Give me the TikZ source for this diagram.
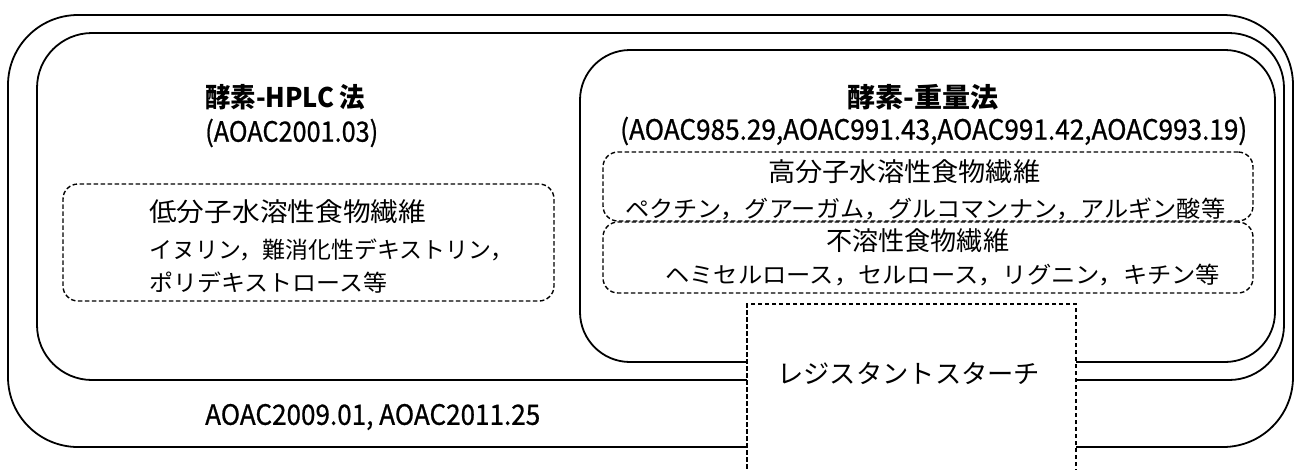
\documentclass[tikz,border=0pt]{standalone}
\usepackage{fontspec}
\usepackage{graphicx}
\setmainfont{Noto Sans CJK JP}
\newfontfamily\semib[FakeBold=0.8]{Noto Sans CJK JP}
\newcommand{\fitw}[3]{{\fontsize{#2}{#2}\selectfont\resizebox{#1pt}{\height}{#3}}}
\newcommand{\fitwm}[3]{{\semib\fontsize{#2}{#2}\selectfont\resizebox{#1pt}{\height}{#3}}}
\newcommand{\fitwb}[3]{{\fontsize{#2}{#2}\selectfont\bfseries\resizebox{#1pt}{\height}{#3}}}
\begin{document}
\begin{tikzpicture}[x=1pt,y=-1pt,
  solidbox/.style={draw, line width=1.8pt, inner sep=0pt},
  dashbox/.style={draw, line width=1.4pt, dash pattern=on 4.5pt off 2.5pt, rounded corners=15pt, inner sep=0pt},
  txt/.style={inner sep=0pt, anchor=west}]
\useasboundingbox (0,0) rectangle (1295,469);
% solid rounded boxes
\node[solidbox, rounded corners=70pt, minimum width=1285pt, minimum height=432pt] (outer) at (650.5,231) {};
\node[solidbox, rounded corners=55pt, minimum width=1247pt, minimum height=347pt] (middle) at (660.5,206.5) {};
\node[solidbox, rounded corners=50pt, minimum width=695pt, minimum height=312pt] (grav) at (927.5,206) {};
% dashed boxes
\node[dashbox, minimum width=491pt, minimum height=117pt] (lowbox) at (308.5,242.5) {};
\node[dashbox, minimum width=650pt, minimum height=69pt] (highbox) at (928,186.5) {};
\node[dashbox, minimum width=650pt, minimum height=71pt] (insbox) at (928,257.5) {};
\node[draw, fill=white, line width=1.4pt, dash pattern=on 4.5pt off 2.5pt, inner sep=0pt, minimum width=329pt, minimum height=176pt] (rsbox) at (911.5,392) {};
% texts
\node[txt] (t1) at (205,97) {\fitwb{160}{27}{酵素-HPLC 法}};
\node[txt] (t2) at (205,133) {\fitwm{173}{28}{(AOAC2001.03)}};
\node[txt] (t3) at (847,97) {\fitwb{151}{27}{酵素-重量法}};
\node[txt] (t4) at (620,131) {\fitwm{627}{28}{(AOAC985.29,AOAC991.43,AOAC991.42,AOAC993.19)}};
\node[txt] (t5) at (149,212) {\fitw{277}{26}{低分子水溶性食物繊維}};
\node[txt] (t6) at (149,250) {\fitw{364}{23}{イヌリン，難消化性デキストリン，}};
\node[txt] (t7) at (149,283) {\fitw{238}{23}{ポリデキストロース等}};
\node[txt] (t8) at (768,172) {\fitw{272}{26}{高分子水溶性食物繊維}};
\node[txt] (t9) at (625,209) {\fitw{600}{23}{ペクチン，グアーガム，グルコマンナン，アルギン酸等}};
\node[txt] (t10) at (826,241) {\fitw{183}{26}{不溶性食物繊維}};
\node[txt] (t11) at (665,275) {\fitw{555}{23}{ヘミセルロース，セルロース，リグニン，キチン等}};
\node[txt] (t12) at (777,373) {\fitw{263}{26}{レジスタントスターチ}};
\node[txt] (t13) at (205,417) {\fitwm{335}{28}{AOAC2009.01, AOAC2011.25}};
\end{tikzpicture}
\end{document}
